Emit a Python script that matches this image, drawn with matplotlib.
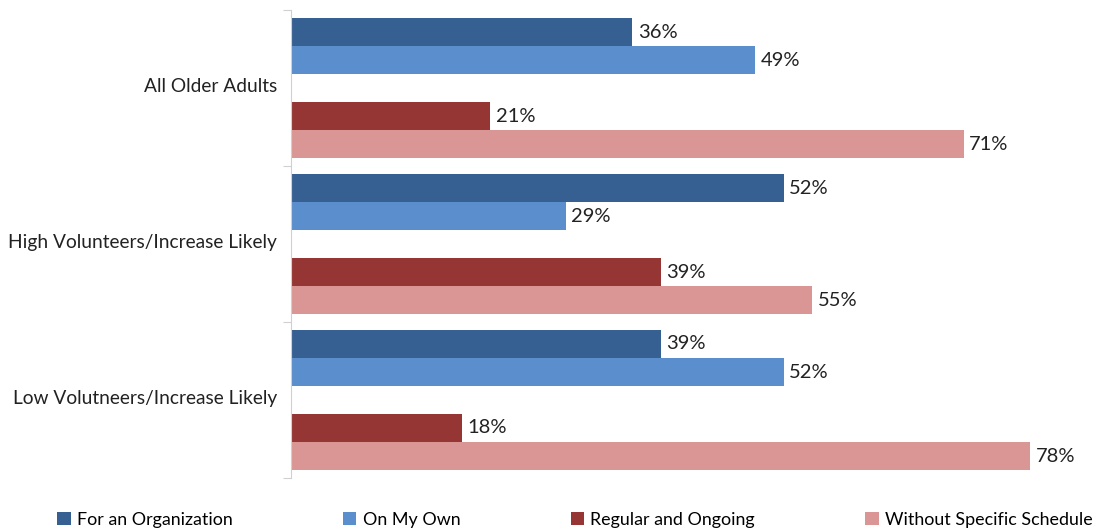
import matplotlib.pyplot as plt
import numpy as np

groups = ['All Older Adults', 'High Volunteers/Increase Likely',
          'Low Volutneers/Increase Likely']
series = ['For an Organization', 'On My Own', 'Regular and Ongoing',
          'Without Specific Schedule']
for_org = [36, 52, 39]
on_own = [49, 29, 52]
regular = [21, 39, 18]
no_schedule = [71, 55, 78]

values = [for_org, on_own, regular, no_schedule]
colors = ['#376092', '#5A8ECC', '#963634', '#D99694']
# slot 2 of each group is left empty, like a blank series in the original
slots = [0, 1, 3, 4]

plt.rcParams['font.family'] = ['Lato', 'DejaVu Sans']

fig = plt.figure(figsize=(11.07, 5.29), dpi=100)
ax = fig.add_axes([291 / 1107, 1 - 478 / 529, 1 - 291 / 1107, 468 / 529])

h = 28 / 156
centers = np.arange(len(groups)) + 0.5
for name, vals, col, s in zip(series, values, colors, slots):
    y = centers + (s - 2) * h
    bars = ax.barh(y, vals, height=h, color=col, label=name)
    ax.bar_label(bars, labels=[f'{v}%' for v in vals], padding=4,
                 fontsize=14.5, color='#222222')

ax.set_xlim(0, 816 / 9.475)
ax.set_ylim(len(groups), 0)
ax.set_xticks([])
ax.set_yticks(np.arange(len(groups) + 1))
ax.set_yticklabels([])
ax.tick_params(axis='y', which='major', length=6, color='#d0d0d0')
ax.set_yticks(centers - 0.02, minor=True)
ax.set_yticklabels(groups, minor=True, fontsize=13.8, color='#222222')
ax.tick_params(axis='y', which='minor', length=0, pad=10)
for side in ['top', 'right', 'bottom']:
    ax.spines[side].set_visible(False)
ax.spines['left'].set_color('#d0d0d0')

handles, labels = ax.get_legend_handles_labels()
fig.legend(handles, labels, ncol=4, mode='expand', frameon=False,
           bbox_to_anchor=(50 / 1107, -0.012, 1050 / 1107, 0.025),
           loc='lower left', fontsize=12.9, handlelength=0.75,
           handleheight=0.75, handletextpad=0.35, borderaxespad=0.0)

fig.savefig('out.png')
plt.close(fig)
